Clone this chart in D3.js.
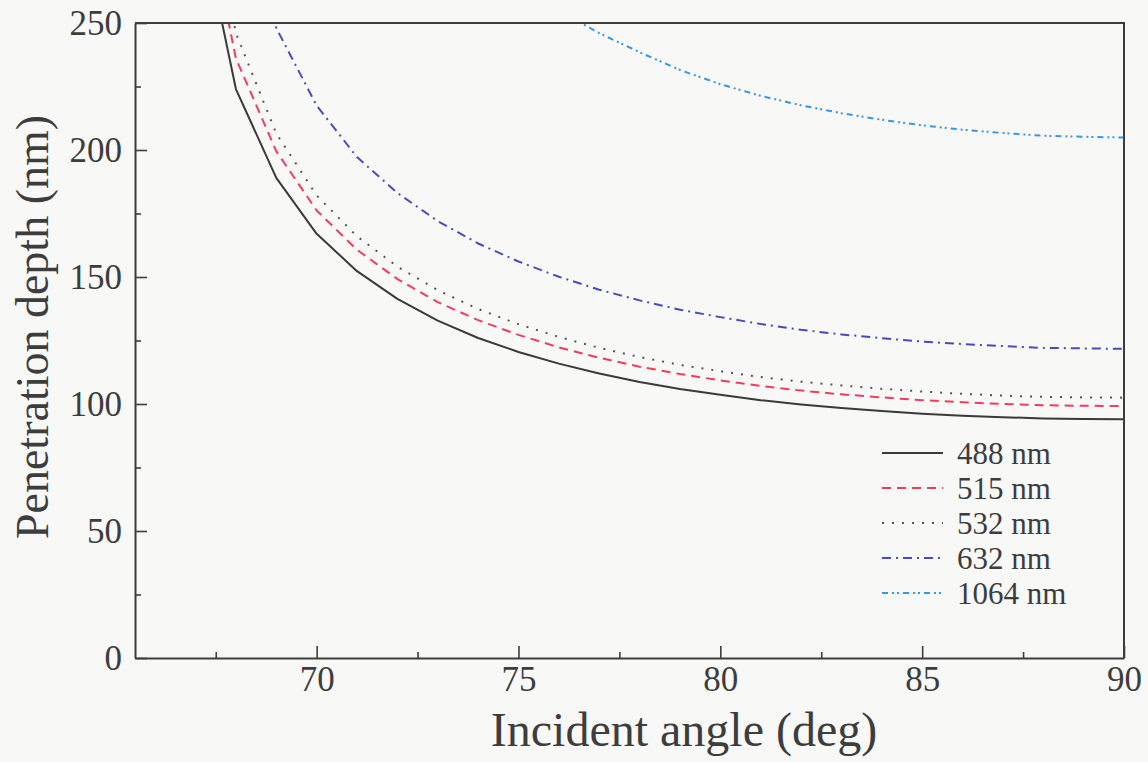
<!DOCTYPE html>
<html><head><meta charset="utf-8">
<script src="https://cdn.jsdelivr.net/npm/d3@7"></script>
<style>html,body{margin:0;padding:0;background:#f8f8f7}svg{display:block}</style>
</head><body>
<svg id="chart" width="1148" height="762"></svg>
<script>
// Incident angle (deg)
const angles = [67,68,69,70,71,72,73,74,75,76,77,78,79,80,81,82,83,84,85,86,87,88,89,90];
// Penetration depth (nm) per wavelength
const depth488  = [300.0,224.0,189.0,167.0,152.3,141.4,132.8,126.0,120.5,115.9,112.0,108.7,105.9,103.6,101.5,99.8,98.4,97.2,96.2,95.4,94.8,94.3,94.1,94.0];
const depth515  = [315.0,236.0,199.5,176.2,160.7,149.2,140.1,133.0,127.2,122.3,118.2,114.7,111.8,109.3,107.1,105.3,103.8,102.6,101.5,100.7,100.0,99.5,99.3,99.2];
const depth532  = [330.0,246.0,206.5,182.1,166.0,154.1,144.8,137.4,131.4,126.4,122.1,118.5,115.4,112.9,110.6,108.8,107.3,106.0,104.9,104.0,103.3,102.8,102.6,102.5];
const depth632  = [null,310.0,248.0,217.5,197.2,183.1,172.0,163.2,156.1,150.1,145.0,140.8,137.1,134.2,131.5,129.2,127.4,125.9,124.6,123.6,122.8,122.1,121.9,121.7];
const depth1064 = [null,null,null,null,null,null,null,null,266.0,255.0,246.0,238.5,231.5,225.9,221.3,217.6,214.5,211.9,209.7,208.0,206.7,205.6,205.2,204.9];

const seriesNames = ["488 nm","515 nm","532 nm","632 nm","1064 nm"];
const seriesValues = [depth488, depth515, depth532, depth632, depth1064];

const xTicks = [70,75,80,85,90];
const xMinorTicks = [67.5,72.5,77.5,82.5,87.5];
const yTicks = [0,50,100,150,200,250];
const yMinorTicks = [25,75,125,175,225];
const xDomain = [65.5, 90];
const yDomain = [0, 250];
const xTitle = "Incident angle (deg)";
const yTitle = "Penetration depth (nm)";

const styles = [
  {color:"#3a3a3a", dash:null,            width:2},
  {color:"#ef3d5c", dash:"9,6",           width:2},
  {color:"#555555", dash:"2,8",           width:2},
  {color:"#4a4ac0", dash:"9,5,2,5",       width:2},
  {color:"#3a96de", dash:"6,4,2,3,2,4",   width:2}
];

const L = 135, R = 1124, T = 23, B = 658;
const font = "'Liberation Serif','Times New Roman',serif";
const ink = "#3d3d3d";

const svg = d3.select("#chart");
svg.append("rect").attr("width",1148).attr("height",762).attr("fill","#f8f8f7");

const x = d3.scaleLinear().domain(xDomain).range([L, R]);
const y = d3.scaleLinear().domain(yDomain).range([B, T]);

svg.append("defs").append("clipPath").attr("id","plotclip")
  .append("rect").attr("x",L).attr("y",T).attr("width",R-L).attr("height",B-T);

// curves
const data = seriesValues.map((vals,i)=>({name:seriesNames[i], style:styles[i],
  pts: angles.map((a,j)=>({a, v: vals[j]}))}));
const line = d3.line().defined(d=>d.v!=null).x(d=>x(d.a)).y(d=>y(d.v));
const g = svg.append("g").attr("clip-path","url(#plotclip)");
g.selectAll("path").data(data).join("path")
  .attr("d", d=>line(d.pts))
  .attr("fill","none")
  .attr("stroke", d=>d.style.color)
  .attr("stroke-width", d=>d.style.width)
  .attr("stroke-dasharray", d=>d.style.dash)
  .attr("stroke-linejoin","round");

// axes
function styleAxis(sel){
  sel.selectAll("path.domain").attr("stroke",ink).attr("stroke-width",2);
  sel.selectAll(".tick line").attr("stroke",ink).attr("stroke-width",1.6);
  sel.selectAll(".tick text").attr("fill",ink).style("font-family",font).style("font-size","35px");
}
const xAxis = svg.append("g").attr("transform",`translate(0,${B})`)
  .call(d3.axisBottom(x).tickValues(xTicks).tickSizeInner(-12).tickSizeOuter(0).tickPadding(8).tickFormat(d3.format("d")));
styleAxis(xAxis);
const xMinor = svg.append("g").attr("transform",`translate(0,${B})`)
  .call(d3.axisBottom(x).tickValues(xMinorTicks).tickSizeInner(-6).tickSizeOuter(0).tickFormat(""));
xMinor.select("path.domain").remove(); styleAxis(xMinor);

const yAxis = svg.append("g").attr("transform",`translate(${L},0)`)
  .call(d3.axisLeft(y).tickValues(yTicks).tickSizeInner(-12).tickSizeOuter(0).tickPadding(13).tickFormat(d3.format("d")));
styleAxis(yAxis);
const yMinor = svg.append("g").attr("transform",`translate(${L},0)`)
  .call(d3.axisLeft(y).tickValues(yMinorTicks).tickSizeInner(-6).tickSizeOuter(0).tickFormat(""));
yMinor.select("path.domain").remove(); styleAxis(yMinor);

// top and right frame
svg.append("path").attr("d",`M${L},${T}H${R}V${B}`).attr("fill","none").attr("stroke",ink).attr("stroke-width",2);

// titles
svg.append("text").attr("x",684).attr("y",746).attr("text-anchor","middle")
  .attr("fill",ink).style("font-family",font).style("font-size","48px").text(xTitle);
svg.append("text").attr("transform",`translate(48,327) rotate(-90)`).attr("text-anchor","middle")
  .attr("fill",ink).style("font-family",font).style("font-size","46px").text(yTitle);

// legend
const legY0 = 453, legDy = 35;
const leg = svg.append("g");
data.forEach((d,i)=>{
  const yy = legY0 + i*legDy;
  leg.append("line").attr("x1",882).attr("x2",943).attr("y1",yy).attr("y2",yy)
    .attr("stroke",d.style.color).attr("stroke-width",2).attr("stroke-dasharray",d.style.dash);
  leg.append("text").attr("x",957).attr("y",yy).attr("dy","0.35em")
    .attr("fill",ink).style("font-family",font).style("font-size","31px").text(d.name);
});
</script>
</body></html>
